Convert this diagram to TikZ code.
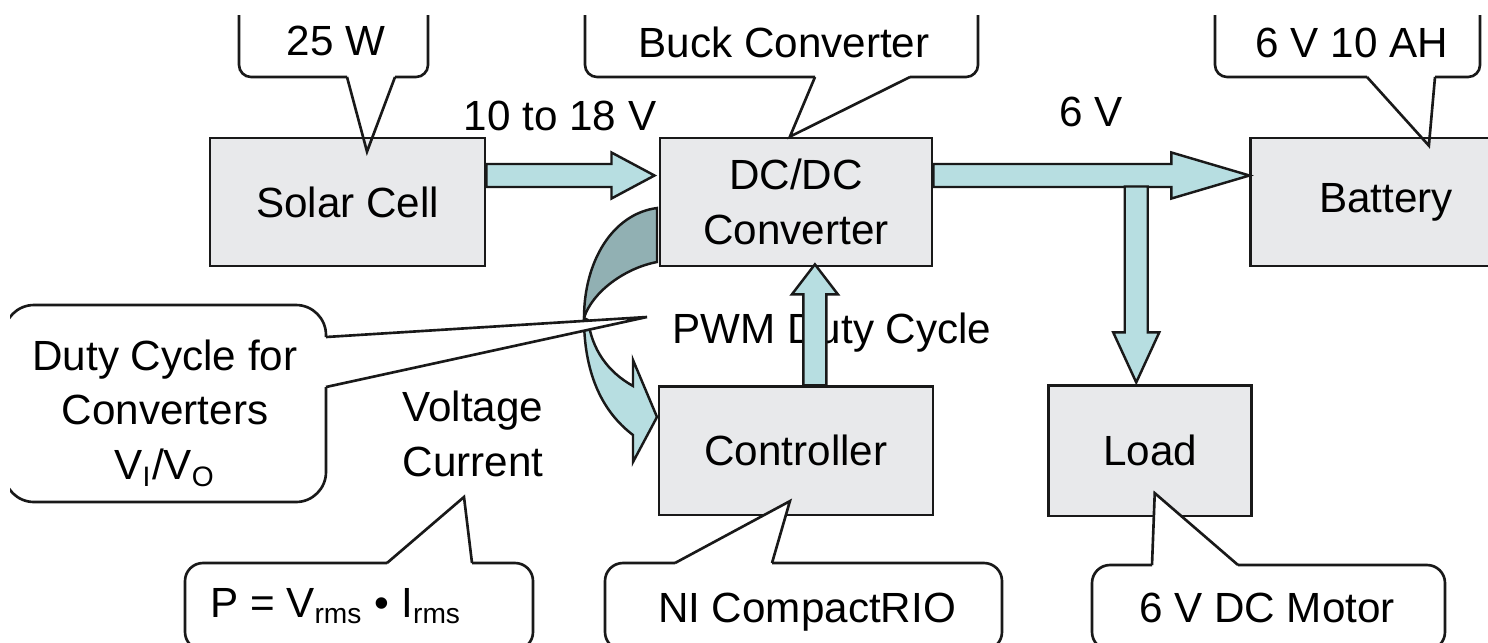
\documentclass[tikz,border=0pt]{standalone}
\usepackage{fontspec}
\setmainfont{Liberation Sans}
\usetikzlibrary{calc, positioning}

\definecolor{boxgray}{RGB}{232,233,235}
\definecolor{flowcyan}{RGB}{183,222,225}
\definecolor{flowdark}{RGB}{145,176,179}
\definecolor{edge}{RGB}{25,25,25}

% block arrows: start, tip, head length
\newcommand{\fatright}[3]{%
  \draw[fatarrow] let \p1=(#1), \p2=(#2) in
    ({\x1},{\y2+0.115cm}) -- ({\x2-#3},{\y2+0.115cm}) -- ({\x2-#3},{\y2+0.23cm}) -- (\p2)
    -- ({\x2-#3},{\y2-0.23cm}) -- ({\x2-#3},{\y2-0.115cm}) -- ({\x1},{\y2-0.115cm}) -- cycle;}
\newcommand{\fatvert}[3]{%
  \draw[fatarrow] let \p1=(#1), \p2=(#2) in
    ({\x2-0.115cm},{\y1}) -- ({\x2-0.115cm},{\y2+#3}) -- ({\x2-0.23cm},{\y2+#3}) -- (\p2)
    -- ({\x2+0.23cm},{\y2+#3}) -- ({\x2+0.115cm},{\y2+#3}) -- ({\x2+0.115cm},{\y1}) -- cycle;}

% callouts: left, right, edge y, pointer base x1, x2, tip
\newcommand{\topcallout}[6]{%
  \draw[callout, rounded corners=0.12cm] (#1,-20) -- (#1,#3) -- (#4,#3);
  \draw[callout] (#4,#3) -- (#6) -- (#5,#3);
  \draw[callout, rounded corners=0.12cm] (#5,#3) -- (#2,#3) -- (#2,-20);}
\newcommand{\bottomcallout}[6]{%
  \fill[white, rounded corners=0.18cm] (#1,#3) rectangle (#2,650);
  \fill[white] (#4,#3) -- (#6) -- (#5,#3) -- cycle;
  \draw[callout, rounded corners=0.18cm] (#5,#3) -- (#2,#3) -- (#2,650) -- (#1,650) -- (#1,#3) -- (#4,#3);
  \draw[callout] (#4,#3) -- (#6) -- (#5,#3);}

\begin{document}
\begin{tikzpicture}[
    x=0.01cm, y=-0.01cm,
    font=\fontsize{12}{15.6}\selectfont,
    block/.style={draw=edge, fill=boxgray, line width=0.75pt, minimum width=2.74cm, minimum height=1.28cm, align=center, inner sep=2pt},
    lbl/.style={inner sep=1pt, align=center},
    fatarrow/.style={draw=edge, fill=flowcyan, line width=0.7pt},
    bendback/.style={draw=edge, fill=flowdark, line width=0.7pt},
    bendfront/.style={draw=edge, fill=flowcyan, line width=0.7pt},
    callout/.style={draw=edge, line width=0.75pt},
]
\useasboundingbox (0,0) rectangle (1488,642);
\begin{scope}
\clip (10,15) rectangle (1488,642);

% Blocks
\node[block, minimum width=2.75cm] (solar) at (347.5,202) {Solar Cell};
\node[block, minimum width=2.72cm, right=1.72cm of solar] (conv) {DC/DC\\Converter};
\node[block, minimum width=2.70cm, right=3.16cm of conv] (battery) {Battery};
\node[block, below=1.18cm of conv] (ctrl) {Controller};
\node[block, minimum width=2.03cm, minimum height=1.30cm, right=1.13cm of ctrl] (load) {Load};

% Labels
\node[lbl, anchor=base] (vin) at (560,130) {10 to 18 V};
\node[lbl, anchor=base] (vout) at (1091,126) {6 V};
\node[lbl, anchor=base] (pwm) at (832,343) {PWM Duty Cycle};
\node[lbl] (vi) at (473,434) {Voltage\\Current};

% Power flow
\fatright{solar.east}{$(conv.west)+(-4,-26.5)$}{0.43cm}
\fatright{conv.east}{$(battery.west)+(0,-26.5)$}{0.78cm}
\fatvert{$(conv.east)+(0,-15.5)$}{$(load.north)+(-14,-2)$}{0.5cm}
\fatvert{ctrl.north}{$(conv.south)+(19,-3)$}{-0.3cm}

% Measured values back to the controller
\draw[bendback] (657,208) .. controls (612,214) and (584,262) .. (584,318)
  .. controls (592,292) and (625,268) .. (657,262) -- cycle;
\draw[bendfront] (584,318) .. controls (584,370) and (600,410) .. (633,435)
  -- (633,462) -- (657,417) -- (633,360) -- (633,386)
  .. controls (608,372) and (592,350) .. (588,320) -- cycle;

% Callouts
\topcallout{239}{428}{77}{347}{395}{$(solar.north)+(19.5,15)$}
\topcallout{585}{978}{77}{815}{910}{$(conv.north)+(-6,0)$}
\topcallout{1215}{1480}{77}{1367}{1435}{$(battery.north)+(43,9)$}
\node[lbl, anchor=base] (power) at (336,55) {25 W};
\node[lbl, anchor=base] (buck) at (784,57) {Buck Converter};
\node[lbl, anchor=base] (cell) at (1352,57) {6 V 10 AH};

\coordinate (ptip) at (464,497);
\coordinate (dtip) at (647,317);
\bottomcallout{185}{533}{563}{387}{472}{ptip}
\bottomcallout{605}{1002}{563}{675}{772}{$(ctrl.south)+(-6,-15)$}
\bottomcallout{1092}{1445}{565}{1152}{1238}{$(load.south)+(4.5,-24)$}
\node[lbl, anchor=base] (pform) at (336,617) {P = V\textsubscript{rms} \textbullet\ I\textsubscript{rms}};
\node[lbl, anchor=base] (crio) at (807,622) {NI CompactRIO};
\node[lbl, anchor=base] (motor) at (1267,622) {6 V DC Motor};

\fill[white, rounded corners=0.35cm] (4,305) rectangle (326,502);
\fill[white] (326,337) -- (dtip) -- (326,387) -- cycle;
\draw[callout, rounded corners=0.3cm] (326,387) -- (326,502) -- (4,502) -- (4,305) -- (326,305) -- (326,337);
\draw[callout] (326,337) -- (dtip) -- (326,387);
\node[lbl] (duty) at (165,413) {Duty Cycle for\\Converters\\V\textsubscript{I}/V\textsubscript{O}};
\end{scope}
\end{tikzpicture}
\end{document}
